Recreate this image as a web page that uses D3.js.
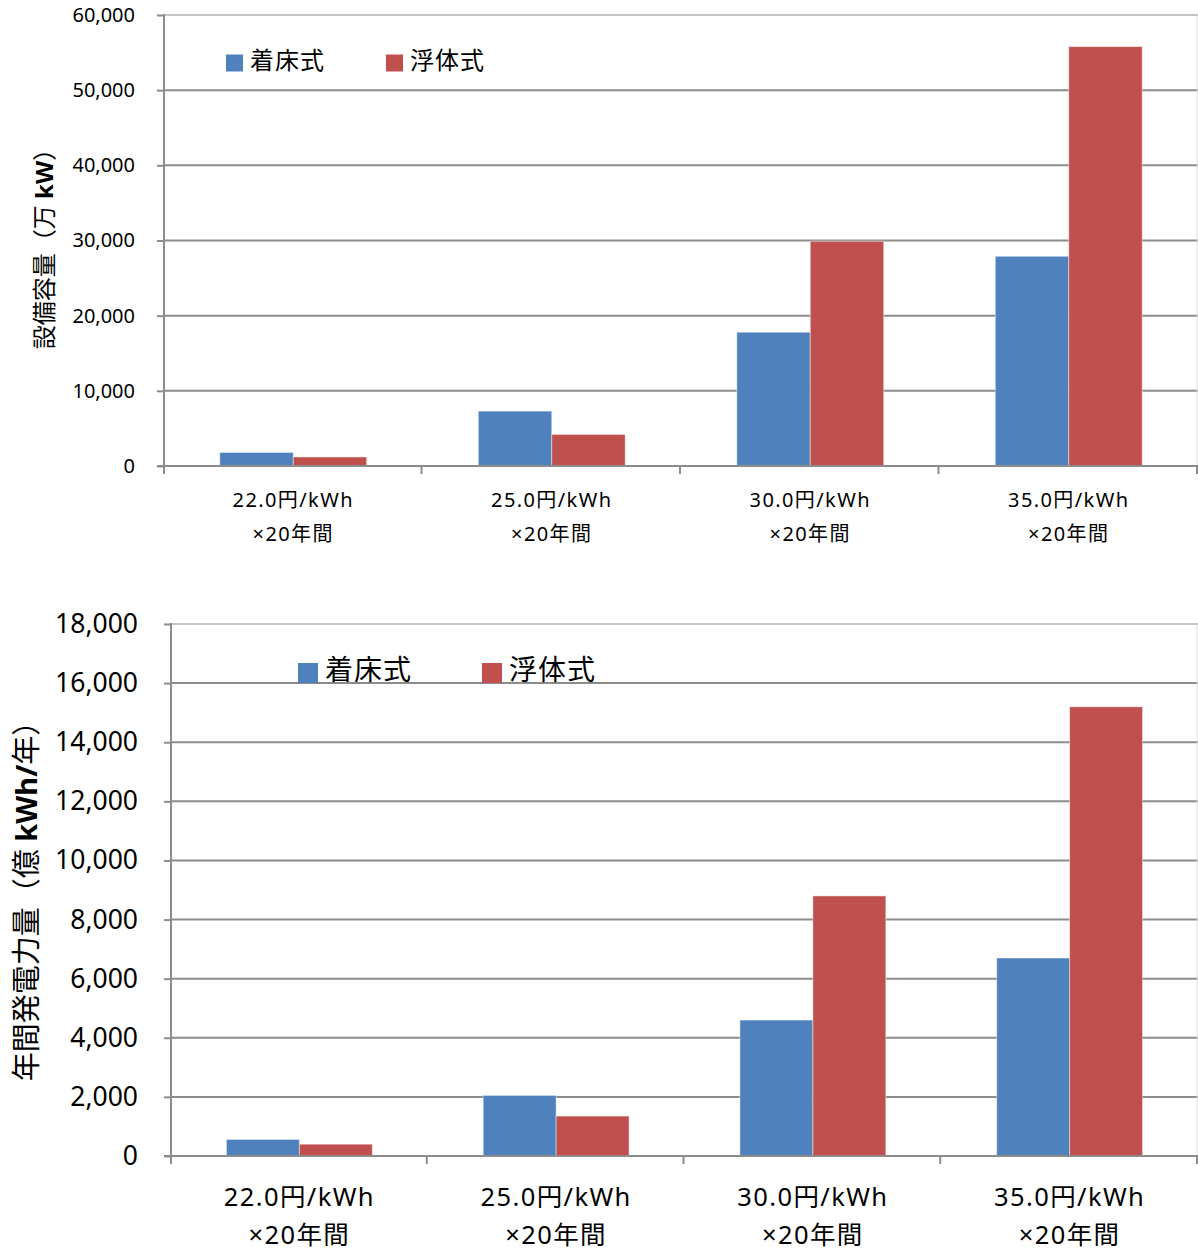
<!DOCTYPE html>
<html>
<head>
<meta charset="utf-8">
<script src="https://cdn.jsdelivr.net/npm/d3@7"></script>
<style>
  html, body { margin: 0; padding: 0; background: #fff; }
  svg { display: block; }
  text { font-family: "Noto Sans", "Noto Sans CJK JP", sans-serif; fill: #000; }
</style>
</head>
<body>
<svg id="chart" width="1198" height="1254"></svg>
<script>
// Feed-in tariff scenarios (price x 20 years)
const categories = ["22.0円/kWh", "25.0円/kWh", "30.0円/kWh", "35.0円/kWh"];
const categorySub = "×20年間";
const seriesNames = ["着床式", "浮体式"];

// Installed capacity (万 kW)
const capacityFixed = [1800, 7300, 17800, 27900];
const capacityFloating = [1200, 4200, 29900, 55800];

// Annual generation (億 kWh/年)
const generationFixed = [560, 2050, 4600, 6700];
const generationFloating = [400, 1350, 8800, 15200];

const capacityTicks = [0, 10000, 20000, 30000, 40000, 50000, 60000];
const generationTicks = [0, 2000, 4000, 6000, 8000, 10000, 12000, 14000, 16000, 18000];

const colors = { "着床式": "#4f81bd", "浮体式": "#c0504d" };
const fmt = d3.format(",");

const svg = d3.select("#chart");

function drawPanel(cfg) {
  const g = svg.append("g");
  const x = d3.scaleBand().domain(categories).range([cfg.left, cfg.right]).padding(0);
  const y = d3.scaleLinear().domain([0, cfg.max]).range([cfg.bottom, cfg.top]);
  const x1 = d3.scaleBand().domain(seriesNames).range([0, x.bandwidth()])
    .paddingInner(0).paddingOuter(0.76);

  // gridlines
  g.append("g").selectAll("line").data(cfg.ticks.filter(d => d > 0)).join("line")
    .attr("x1", cfg.left).attr("x2", cfg.right)
    .attr("y1", d => y(d)).attr("y2", d => y(d))
    .attr("stroke", d => d === cfg.max ? "#c4c4c4" : "#8c8c8c")
    .attr("stroke-width", 2);

  // right border
  g.append("line")
    .attr("x1", cfg.right - 1).attr("x2", cfg.right - 1)
    .attr("y1", cfg.top).attr("y2", cfg.bottom)
    .attr("stroke", "#dddddd").attr("stroke-width", 1);

  // bars
  const rows = categories.map((c, i) => ({ cat: c, vals: [
    { s: seriesNames[0], v: cfg.fixed[i] },
    { s: seriesNames[1], v: cfg.floating[i] }
  ]}));
  g.append("g").selectAll("g").data(rows).join("g")
    .attr("transform", d => `translate(${x(d.cat)},0)`)
    .selectAll("rect").data(d => d.vals).join("rect")
    .attr("x", d => x1(d.s))
    .attr("width", x1.bandwidth())
    .attr("y", d => y(d.v))
    .attr("height", d => y(0) - y(d.v))
    .attr("fill", d => colors[d.s])
    .attr("stroke", "rgba(255,255,255,0.45)")
    .attr("stroke-width", 1);

  // y axis
  const yAxis = d3.axisLeft(y).tickValues(cfg.ticks).tickFormat(fmt)
    .tickSize(7).tickPadding(cfg.tickPad);
  const ya = g.append("g").attr("transform", `translate(${cfg.left},0)`).call(yAxis);
  ya.select(".domain").remove();
  ya.selectAll(".tick line").attr("stroke", "#8c8c8c").attr("stroke-width", 2);
  ya.selectAll(".tick text").attr("font-size", cfg.yFont)
    .style("font-family", '"Noto Sans", sans-serif').attr("fill", "#000");
  g.append("line").attr("x1", cfg.left).attr("x2", cfg.left)
    .attr("y1", cfg.top - 1).attr("y2", cfg.bottom + 8)
    .attr("stroke", "#8c8c8c").attr("stroke-width", 2);

  // x axis baseline and category boundary ticks
  g.append("line").attr("x1", cfg.left - 7).attr("x2", cfg.right)
    .attr("y1", y(0)).attr("y2", y(0))
    .attr("stroke", "#8c8c8c").attr("stroke-width", 2);
  const bounds = categories.map(c => x(c)).concat([cfg.right]);
  g.append("g").selectAll("line").data(bounds.slice(1)).join("line")
    .attr("x1", d => d - 1).attr("x2", d => d - 1)
    .attr("y1", y(0)).attr("y2", y(0) + 8)
    .attr("stroke", "#8c8c8c").attr("stroke-width", 2);

  // category labels
  const lab = g.append("g").selectAll("text").data(categories).join("text")
    .attr("text-anchor", "middle")
    .attr("font-size", cfg.xFont)
    .attr("letter-spacing", cfg.xSpacing);
  lab.append("tspan").attr("x", d => x(d) + x.bandwidth() / 2).attr("y", cfg.xLine1).text(d => d);
  lab.append("tspan").attr("x", d => x(d) + x.bandwidth() / 2).attr("y", cfg.xLine2).text(categorySub);

  // y title
  const t = g.append("text")
    .attr("transform", `translate(${cfg.titleX},${cfg.titleY}) rotate(-90)`)
    .attr("text-anchor", "middle")
    .attr("dominant-baseline", "central")
    .attr("font-size", cfg.titleFont);
  cfg.title.forEach(p => t.append("tspan").attr("font-weight", p.bold ? "bold" : "normal").text(p.t));

  // legend
  const lg = g.append("g").selectAll("g").data(seriesNames).join("g")
    .attr("transform", (d, i) => `translate(${cfg.legendX[i]},${cfg.legendY})`);
  lg.append("rect").attr("x", 0).attr("y", -cfg.legendBox / 2)
    .attr("width", cfg.legendBox).attr("height", cfg.legendBox)
    .attr("fill", d => colors[d]);
  lg.append("text").attr("x", cfg.legendBox + cfg.legendGap).attr("y", cfg.legendTextDy)
    .attr("dominant-baseline", "central")
    .attr("font-size", cfg.legendFont)
    .attr("letter-spacing", 1)
    .text(d => d);
}

drawPanel({
  left: 164, right: 1198, top: 15, bottom: 466, max: 60000,
  ticks: capacityTicks, fixed: capacityFixed, floating: capacityFloating,
  yFont: 20, tickPad: 22,
  xFont: 20, xSpacing: 1.4, xLine1: 507, xLine2: 541,
  title: [{ t: "設備容量（万 " }, { t: "kW", bold: true }, { t: "）" }],
  titleX: 43, titleY: 243, titleFont: 24,
  legendX: [226, 386], legendY: 63, legendTextDy: -4, legendBox: 17, legendGap: 7, legendFont: 24
});

drawPanel({
  left: 171, right: 1198, top: 624, bottom: 1156, max: 18000,
  ticks: generationTicks, fixed: generationFixed, floating: generationFloating,
  yFont: 26.5, tickPad: 26,
  xFont: 25.5, xSpacing: 1.4, xLine1: 1206, xLine2: 1244,
  title: [{ t: "年間発電力量（億  " }, { t: "kWh/", bold: true }, { t: "年）" }],
  titleX: 25, titleY: 894, titleFont: 29,
  legendX: [298, 482], legendY: 673, legendTextDy: -4, legendBox: 20, legendGap: 7, legendFont: 28
});
</script>
</body>
</html>
